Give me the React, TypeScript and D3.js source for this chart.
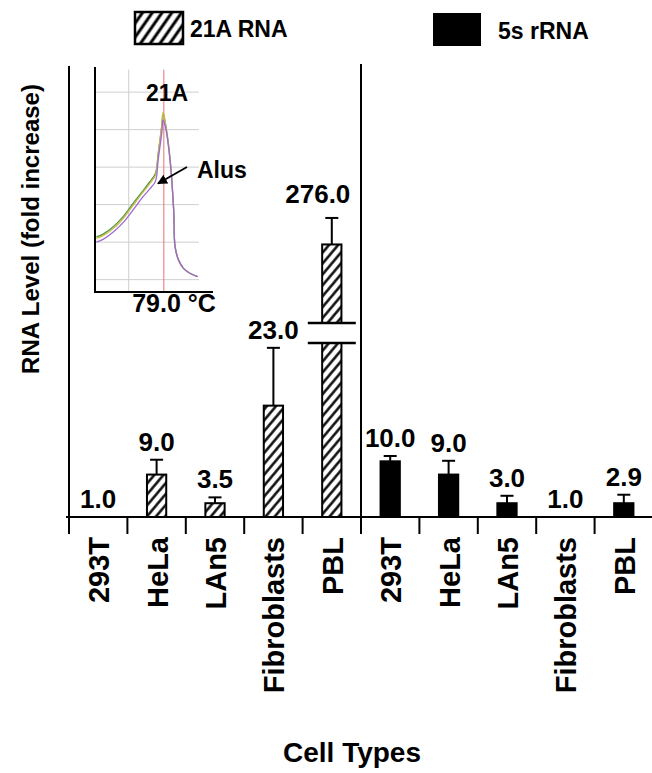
import React, { useEffect, useRef } from 'react';
import * as d3 from 'd3';

const cellTypes = ['293T', 'HeLa', 'LAn5', 'Fibroblasts', 'PBL'];
const seriesNames = ['21A RNA', '5s rRNA'];

// bar heights (fold increase)
const rna21A = [1.0, 9.0, 3.6, 22.0, 276.0];
const rna5s = [11.5, 9.0, 3.6, 1.0, 3.6];
// tops of the error bars (null = none drawn)
const err21A = [null, 11.8, 4.7, 32.9, 303];
const err5s = [12.5, 11.6, 5.0, null, 5.2];
// numbers printed above the bars
const labels21A = ['1.0', '9.0', '3.5', '23.0', '276.0'];
const labels5s = ['10.0', '9.0', '3.0', '1.0', '2.9'];

// inset melting curve (temperature in °C, -dF/dT)
const meltTemp = [69.4, 70.4, 71.8, 73.2, 74.7, 75.9, 77.0, 77.8, 78.2, 78.7, 78.9, 79.3, 79.9, 80.4, 80.6, 81.1, 81.8, 82.7, 83.8];
const meltGreen = [1.14, 1.22, 1.41, 1.68, 2.05, 2.34, 2.61, 2.83, 3.37, 4.08, 4.43, 4.08, 3.19, 1.86, 0.88, 0.52, 0.3, 0.17, 0.08];
const meltYellow = [1.1, 1.18, 1.36, 1.63, 2.0, 2.3, 2.56, 2.78, 3.35, 4.1, 4.47, 4.08, 3.19, 1.86, 0.88, 0.52, 0.3, 0.17, 0.08];
const meltPurple = [1.0, 1.08, 1.27, 1.52, 1.88, 2.18, 2.42, 2.62, 3.2, 3.9, 4.25, 4.0, 3.15, 1.86, 0.88, 0.52, 0.3, 0.17, 0.08];
const meltPeak = 79.0;
const meltGrid = [0, 1, 2, 3, 4, 5];

const FONT = '"Liberation Sans", Arial, sans-serif';

const App = () => {
  const ref = useRef<SVGSVGElement>(null);

  useEffect(() => {
    const svg = d3.select(ref.current);
    svg.selectAll('*').remove();

    const base = 517;
    const top = 66;

    const items = [
      ...cellTypes.map((c, i) => ({ key: 'a' + c, cell: c, v: rna21A[i], err: err21A[i], label: labels21A[i], hatch: true })),
      ...cellTypes.map((c, i) => ({ key: 'b' + c, cell: c, v: rna5s[i], err: err5s[i], label: labels5s[i], hatch: false }))
    ];

    const x = d3.scaleBand().domain(items.map((d) => d.key)).range([69, 653]).padding(0);
    const barW = x.bandwidth() * 0.33;
    const cx = (k: string) => (x(k) as number) + x.bandwidth() / 2;

    // broken value axis
    const yLow = d3.scaleLinear().domain([1, 34]).range([base, 342]);
    const yHigh = d3.scaleLinear().domain([196, 306]).range([323, 215]);
    const yPos = (v: number) => (v > 40 ? yHigh(v) : yLow(v));

    const defs = svg.append('defs');
    const pat = defs
      .append('pattern')
      .attr('id', 'hatch')
      .attr('patternUnits', 'userSpaceOnUse')
      .attr('width', 7)
      .attr('height', 7)
      .attr('patternTransform', 'rotate(40)');
    pat.append('rect').attr('width', 7).attr('height', 7).attr('fill', '#fff');
    pat.append('line').attr('x1', 3.5).attr('x2', 3.5).attr('y1', 0).attr('y2', 7).attr('stroke', '#000').attr('stroke-width', 2.4);

    const pat2 = defs
      .append('pattern')
      .attr('id', 'hatchLegend')
      .attr('patternUnits', 'userSpaceOnUse')
      .attr('width', 8)
      .attr('height', 8)
      .attr('patternTransform', 'rotate(35)');
    pat2.append('rect').attr('width', 8).attr('height', 8).attr('fill', '#fff');
    pat2.append('line').attr('x1', 4).attr('x2', 4).attr('y1', 0).attr('y2', 8).attr('stroke', '#000').attr('stroke-width', 3);

    defs
      .append('marker')
      .attr('id', 'arrow')
      .attr('viewBox', '0 0 10 10')
      .attr('refX', 9)
      .attr('refY', 5)
      .attr('markerWidth', 5)
      .attr('markerHeight', 5)
      .attr('orient', 'auto')
      .append('path')
      .attr('d', 'M0,0L10,5L0,10z')
      .attr('fill', '#000');

    // legend
    const legend = svg.append('g').attr('font-family', FONT).attr('font-weight', 'bold').attr('font-size', 23);
    legend.append('rect').attr('x', 135).attr('y', 12).attr('width', 48).attr('height', 32)
      .attr('fill', 'url(#hatchLegend)').attr('stroke', '#000').attr('stroke-width', 2.5);
    legend.append('text').attr('x', 190).attr('y', 37).text(seriesNames[0]);
    legend.append('rect').attr('x', 433).attr('y', 13).attr('width', 48).attr('height', 33).attr('fill', '#000');
    legend.append('text').attr('x', 498).attr('y', 39).text(seriesNames[1]);

    // inset melting curve
    const tx = d3.scaleLinear().domain([69.2, 86]).range([95, 213]);
    const ty = d3.scaleLinear().domain([-0.33, 5.67]).range([292, 67]);
    const inset = svg.append('g');
    inset.selectAll('line.hg').data(meltGrid).enter().append('line')
      .attr('x1', tx(69.2)).attr('x2', tx(84)).attr('y1', (d) => ty(d)).attr('y2', (d) => ty(d))
      .attr('stroke', '#cfcfcf').attr('stroke-width', 1);
    inset.append('line').attr('x1', tx(74)).attr('x2', tx(74)).attr('y1', ty(5.6)).attr('y2', ty(-0.33))
      .attr('stroke', '#cfcfcf').attr('stroke-width', 1);
    inset.append('line').attr('x1', tx(meltPeak)).attr('x2', tx(meltPeak)).attr('y1', ty(5.6)).attr('y2', ty(-0.33))
      .attr('stroke', '#e57373').attr('stroke-width', 1);

    const melt = d3.line<number>().x((_, i) => tx(meltTemp[i])).y((d) => ty(d)).curve(d3.curveCatmullRom);
    [
      { v: meltGreen, c: '#4f9a3c' },
      { v: meltYellow, c: '#c9b94a' },
      { v: meltPurple, c: '#9c6ad6' }
    ].forEach((s) => {
      inset.append('path').attr('d', melt(s.v)).attr('fill', 'none').attr('stroke', s.c).attr('stroke-width', 1.3);
    });

    inset.append('line').attr('x1', 95).attr('x2', 95).attr('y1', 67).attr('y2', 292).attr('stroke', '#000').attr('stroke-width', 2);
    inset.append('line').attr('x1', 94).attr('x2', 213).attr('y1', 292).attr('y2', 292).attr('stroke', '#000').attr('stroke-width', 2);

    const insetText = inset.append('g').attr('font-family', FONT).attr('font-weight', 'bold').attr('font-size', 23);
    insetText.append('text').attr('x', 167).attr('y', 101).attr('text-anchor', 'middle').text('21A');
    insetText.append('text').attr('x', 197).attr('y', 178).text('Alus');
    insetText.append('text').attr('x', 174).attr('y', 312).attr('text-anchor', 'middle').attr('font-size', 25).text('79.0 °C');
    inset.append('line').attr('x1', 187).attr('y1', 167).attr('x2', 158).attr('y2', 183.5)
      .attr('stroke', '#000').attr('stroke-width', 2).attr('marker-end', 'url(#arrow)');

    // bars
    const bars = items.filter((d) => d.v > 1);
    svg.selectAll('rect.bar').data(bars).enter().append('rect')
      .attr('x', (d) => cx(d.key) - barW / 2)
      .attr('y', (d) => yPos(d.v))
      .attr('width', barW)
      .attr('height', (d) => base - yPos(d.v))
      .attr('fill', (d) => (d.hatch ? 'url(#hatch)' : '#000'))
      .attr('stroke', '#000')
      .attr('stroke-width', 2);

    // axis break on the PBL bar
    const pbl = items[4];
    svg.append('rect').attr('x', cx(pbl.key) - barW / 2 - 2).attr('y', 324).attr('width', barW + 4).attr('height', 18).attr('fill', '#fff');
    [323, 343].forEach((yy) => {
      svg.append('line').attr('x1', cx(pbl.key) - 24).attr('x2', cx(pbl.key) + 24).attr('y1', yy).attr('y2', yy)
        .attr('stroke', '#000').attr('stroke-width', 2.5);
    });

    // error bars
    const withErr = items.filter((d) => d.err != null);
    const eg = svg.append('g').attr('stroke', '#000').attr('stroke-width', 2);
    withErr.forEach((d) => {
      const c = cx(d.key);
      eg.append('line').attr('x1', c).attr('x2', c).attr('y1', yPos(d.v)).attr('y2', yPos(d.err as number));
      eg.append('line').attr('x1', c - 6.5).attr('x2', c + 6.5).attr('y1', yPos(d.err as number)).attr('y2', yPos(d.err as number));
    });

    // value labels
    svg.append('g').attr('font-family', FONT).attr('font-weight', 'bold').attr('font-size', 26).attr('text-anchor', 'middle')
      .selectAll('text').data(items).enter().append('text')
      .attr('x', (d) => cx(d.key) - (d.v > 40 ? 14 : 0))
      .attr('y', (d) => yPos(d.err != null ? d.err : d.v) - (d.v > 40 ? 15 : 9))
      .text((d) => d.label);

    // axes
    const ax = svg.append('g').attr('stroke', '#000').attr('stroke-width', 2);
    ax.append('line').attr('x1', 69).attr('x2', 69).attr('y1', top).attr('y2', base + 17);
    ax.append('line').attr('x1', 66).attr('x2', 652).attr('y1', base).attr('y2', base);
    const splitX = x(items[5].key) as number;
    ax.append('line').attr('x1', splitX).attr('x2', splitX).attr('y1', top - 2).attr('y2', base + 17);
    items.forEach((d) => {
      const xx = x(d.key) as number;
      ax.append('line').attr('x1', xx).attr('x2', xx).attr('y1', base).attr('y2', base + 17);
    });

    svg.append('g').attr('font-family', FONT).attr('font-weight', 'bold').attr('font-size', 29)
      .selectAll('text').data(items).enter().append('text')
      .attr('transform', (d) => `translate(${cx(d.key) + 1},${base + 20}) rotate(-90)`)
      .attr('text-anchor', 'end')
      .attr('dominant-baseline', 'central')
      .text((d) => d.cell);

    svg.append('text').attr('font-family', FONT).attr('font-weight', 'bold').attr('font-size', 24)
      .attr('transform', 'translate(30,229) rotate(-90)')
      .attr('text-anchor', 'middle').attr('dominant-baseline', 'central')
      .text('RNA Level (fold increase)');

    svg.append('text').attr('font-family', FONT).attr('font-weight', 'bold').attr('font-size', 28)
      .attr('x', 352).attr('y', 762).attr('text-anchor', 'middle')
      .text('Cell Types');
  }, []);

  return (
    <svg ref={ref} width={652} height={773} style={{ position: 'absolute', left: 0, top: 0, background: '#fff' }} />
  );
};

export default App;
